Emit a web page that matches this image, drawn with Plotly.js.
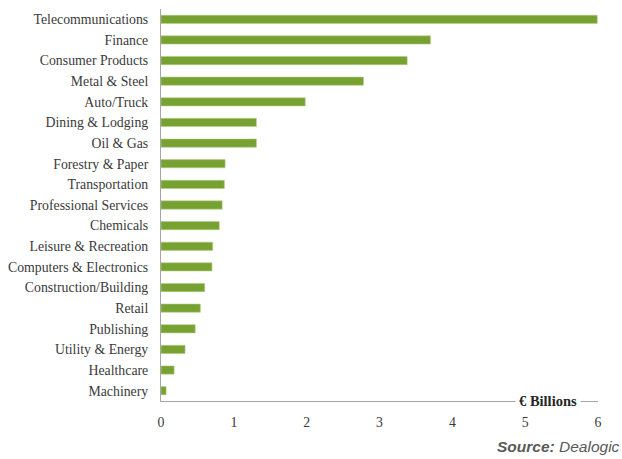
<!DOCTYPE html>
<html>
<head>
<meta charset="utf-8">
<script src="https://cdn.plot.ly/plotly-3.0.1.min.js"></script>
<style>html,body{margin:0;padding:0;background:#fff;}#chart{width:622px;height:459px;}</style>
</head>
<body>
<div id="chart"></div>
<script>
const sectors = ["Telecommunications","Finance","Consumer Products","Metal & Steel","Auto/Truck","Dining & Lodging","Oil & Gas","Forestry & Paper","Transportation","Professional Services","Chemicals","Leisure & Recreation","Computers & Electronics","Construction/Building","Retail","Publishing","Utility & Energy","Healthcare","Machinery"];
const values = [5.99,3.70,3.38,2.78,1.98,1.31,1.31,0.88,0.87,0.84,0.80,0.71,0.70,0.60,0.54,0.47,0.33,0.18,0.07];
const xTicks = [0,1,2,3,4,5,6];
const unitLabel = "€ Billions";
const sourceLabel = "<b>Source:</b> Dealogic";

const serif = "Liberation Serif, Times New Roman, serif";

const trace = {
  type: "bar",
  orientation: "h",
  x: values,
  y: sectors,
  marker: {color: "#77a131", line: {color: "#b5cf8a", width: 0.6}},
  hoverinfo: "x+y"
};

const layout = {
  width: 622, height: 459,
  margin: {l: 161, r: 24, t: 9, b: 58},
  paper_bgcolor: "#fff", plot_bgcolor: "#fff",
  bargap: 0.6,
  showlegend: false,
  font: {family: serif, color: "#3a3a3a", size: 13.8},
  xaxis: {
    range: [0, 6], tickvals: xTicks, ticktext: xTicks.map(String),
    showgrid: false, zeroline: false,
    showline: true, linecolor: "#a6a6a6", linewidth: 1,
    ticks: "", ticklabelstandoff: 8,
    tickfont: {family: serif, size: 13.8, color: "#3a3a3a"}
  },
  yaxis: {
    autorange: "reversed", type: "category",
    showgrid: false, zeroline: false,
    showline: true, linecolor: "#a6a6a6", linewidth: 1,
    ticks: "", ticklabelstandoff: 9,
    tickfont: {family: serif, size: 13.8, color: "#3a3a3a"}
  },
  annotations: [
    {text: "<b>" + unitLabel + "</b>", xref: "paper", yref: "paper", x: 0.886, y: 0, xanchor: "center", yanchor: "middle",
     showarrow: false, bgcolor: "#fff", borderpad: 3, font: {family: serif, size: 14.5, color: "#262626"}},
    {text: "<i>" + sourceLabel + "</i>", xref: "paper", yref: "paper", x: 1.055, y: -0.117, xanchor: "right", yanchor: "middle",
     showarrow: false, font: {family: "Liberation Sans, Arial, sans-serif", size: 15.5, color: "#595959"}}
  ]
};

Plotly.newPlot("chart", [trace], layout, {displayModeBar: false, staticPlot: true});
</script>
</body>
</html>
